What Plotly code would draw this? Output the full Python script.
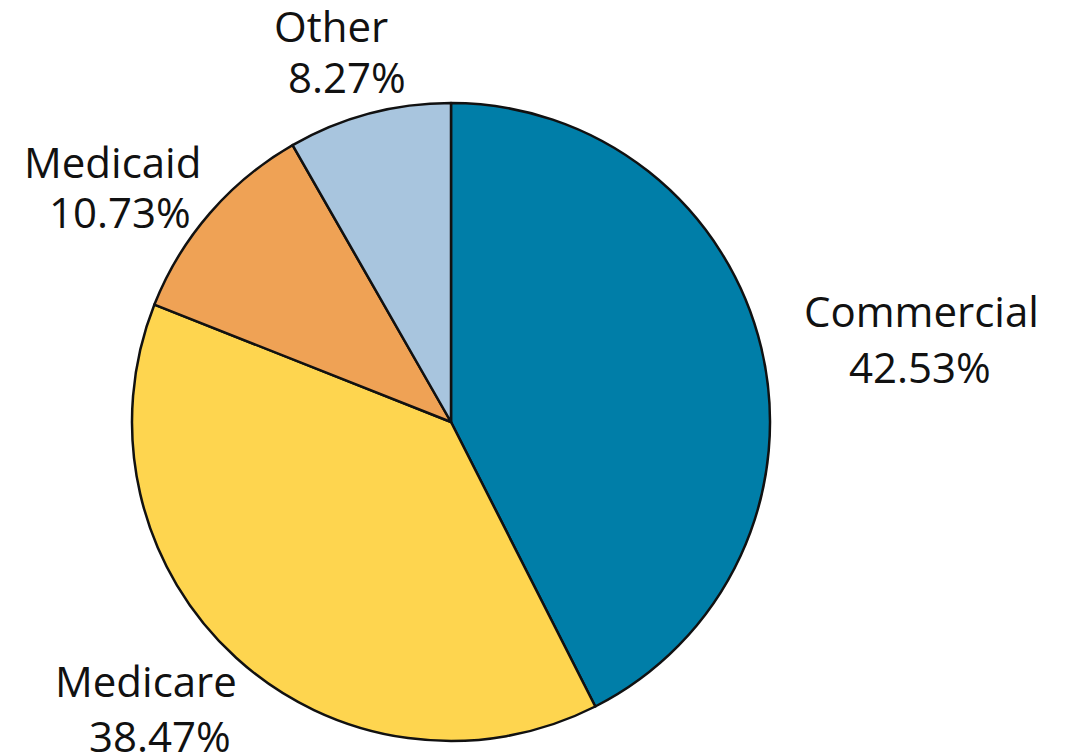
import plotly.graph_objects as go

categories = ["Commercial", "Medicare", "Medicaid", "Other"]
shares = [42.53, 38.47, 10.73, 8.27]
colors = ["#007EA8", "#FED54F", "#EFA255", "#A8C5DE"]

# figure size (page adds an 8px body margin)
W, H = 1060, 748
cx, cy, r = 443, 414, 319

fig = go.Figure(go.Pie(
    labels=categories,
    values=shares,
    sort=False,
    direction="clockwise",
    rotation=0,
    marker=dict(colors=colors, line=dict(color="#111111", width=2.5)),
    textinfo="none",
    hoverinfo="label+percent",
    domain=dict(x=[(cx - r) / W, (cx + r) / W], y=[(H - cy - r) / H, (H - cy + r) / H]),
    showlegend=False,
))

# label layout: (name x, name y, value x, value y) in pixels from top-left of figure
label_pos = {
    "Commercial": (913, 302, 912, 358),
    "Medicare": (138, 672, 152, 727),
    "Medicaid": (104, 153, 112, 204),
    "Other": (323, 18, 339, 68),
}
font = dict(family="Open Sans, Noto Sans, sans-serif", size=42, color="#111111")
for name, val in zip(categories, shares):
    nx, ny, vx, vy = label_pos[name]
    fig.add_annotation(x=nx / W, y=1 - ny / H, xref="paper", yref="paper", text=name,
                       showarrow=False, font=font, xanchor="center", yanchor="middle")
    fig.add_annotation(x=vx / W, y=1 - vy / H, xref="paper", yref="paper", text=f"{val:.2f}%",
                       showarrow=False, font=font, xanchor="center", yanchor="middle")

fig.update_layout(width=W, height=H, margin=dict(l=0, r=0, t=0, b=0),
                  paper_bgcolor="white", plot_bgcolor="white")
fig.write_html("out.html")
